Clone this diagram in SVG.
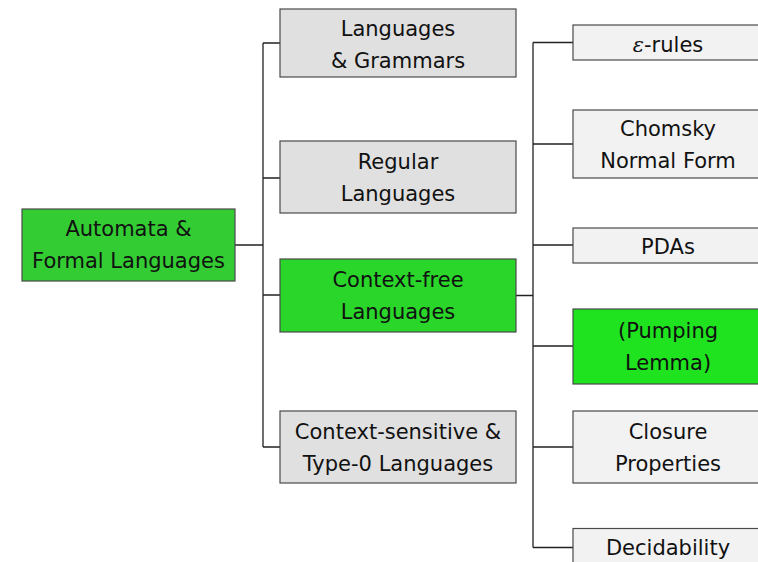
<svg xmlns="http://www.w3.org/2000/svg" width="758" height="562" viewBox="0 0 758 562">
<style>
.box{stroke:#4a4a4a;stroke-width:1.2}
.g1{fill:#33cc33}
.g2{fill:#29d629}
.g3{fill:#1ee31e}
.l2{fill:#e0e0e0}
.l3{fill:#f2f2f2}
text{font-family:"DejaVu Sans",sans-serif;font-size:21px;fill:#111;text-anchor:middle}
.c{fill:none;stroke:#222;stroke-width:1.3}
</style>
<rect width="758" height="562" fill="#fff"/>
<g id="connectors">
<path class="c" d="M235 245H263M263 43V447M263 43H280M263 178H280M263 295H280M263 447H280"/>
<path class="c" d="M516 295.5H533M533 42.5V547.5M533 42.5H573M533 144H573M533 245H573M533 346H573M533 447H573M533 547.5H573"/>
</g>
<g id="root">
<rect class="box g1" x="22" y="209" width="213" height="72"/>
<text x="128.5" y="236">Automata &amp;</text>
<text x="128.5" y="268">Formal Languages</text>
</g>
<g id="lang-grammars">
<rect class="box l2" x="280" y="9" width="236" height="68"/>
<text x="398" y="35.5">Languages</text>
<text x="398" y="67.5">&amp; Grammars</text>
</g>
<g id="regular">
<rect class="box l2" x="280" y="141" width="236" height="72"/>
<text x="398" y="169">Regular</text>
<text x="398" y="201">Languages</text>
</g>
<g id="context-free">
<rect class="box g2" x="280" y="259" width="236" height="73"/>
<text x="398" y="287">Context-free</text>
<text x="398" y="319">Languages</text>
</g>
<g id="context-sensitive">
<rect class="box l2" x="280" y="411" width="236" height="72"/>
<text x="398" y="439">Context-sensitive &amp;</text>
<text x="398" y="471">Type-0 Languages</text>
</g>
<g id="eps-rules">
<rect class="box l3" x="573" y="25" width="189" height="35"/>
<text x="668" y="51.5"><tspan font-family="'DejaVu Serif',serif" font-style="italic">ε</tspan>-rules</text>
</g>
<g id="chomsky">
<rect class="box l3" x="573" y="110" width="189" height="68"/>
<text x="668" y="136">Chomsky</text>
<text x="668" y="168">Normal Form</text>
</g>
<g id="pdas">
<rect class="box l3" x="573" y="228" width="189" height="35"/>
<text x="668" y="253.5">PDAs</text>
</g>
<g id="pumping">
<rect class="box g3" x="573" y="309" width="189" height="75"/>
<text x="668" y="338">(Pumping</text>
<text x="668" y="370">Lemma)</text>
</g>
<g id="closure">
<rect class="box l3" x="573" y="411" width="189" height="72"/>
<text x="668" y="439">Closure</text>
<text x="668" y="471">Properties</text>
</g>
<g id="decidability">
<rect class="box l3" x="573" y="528.5" width="189" height="40"/>
<text x="668" y="555">Decidability</text>
</g>
</svg>
